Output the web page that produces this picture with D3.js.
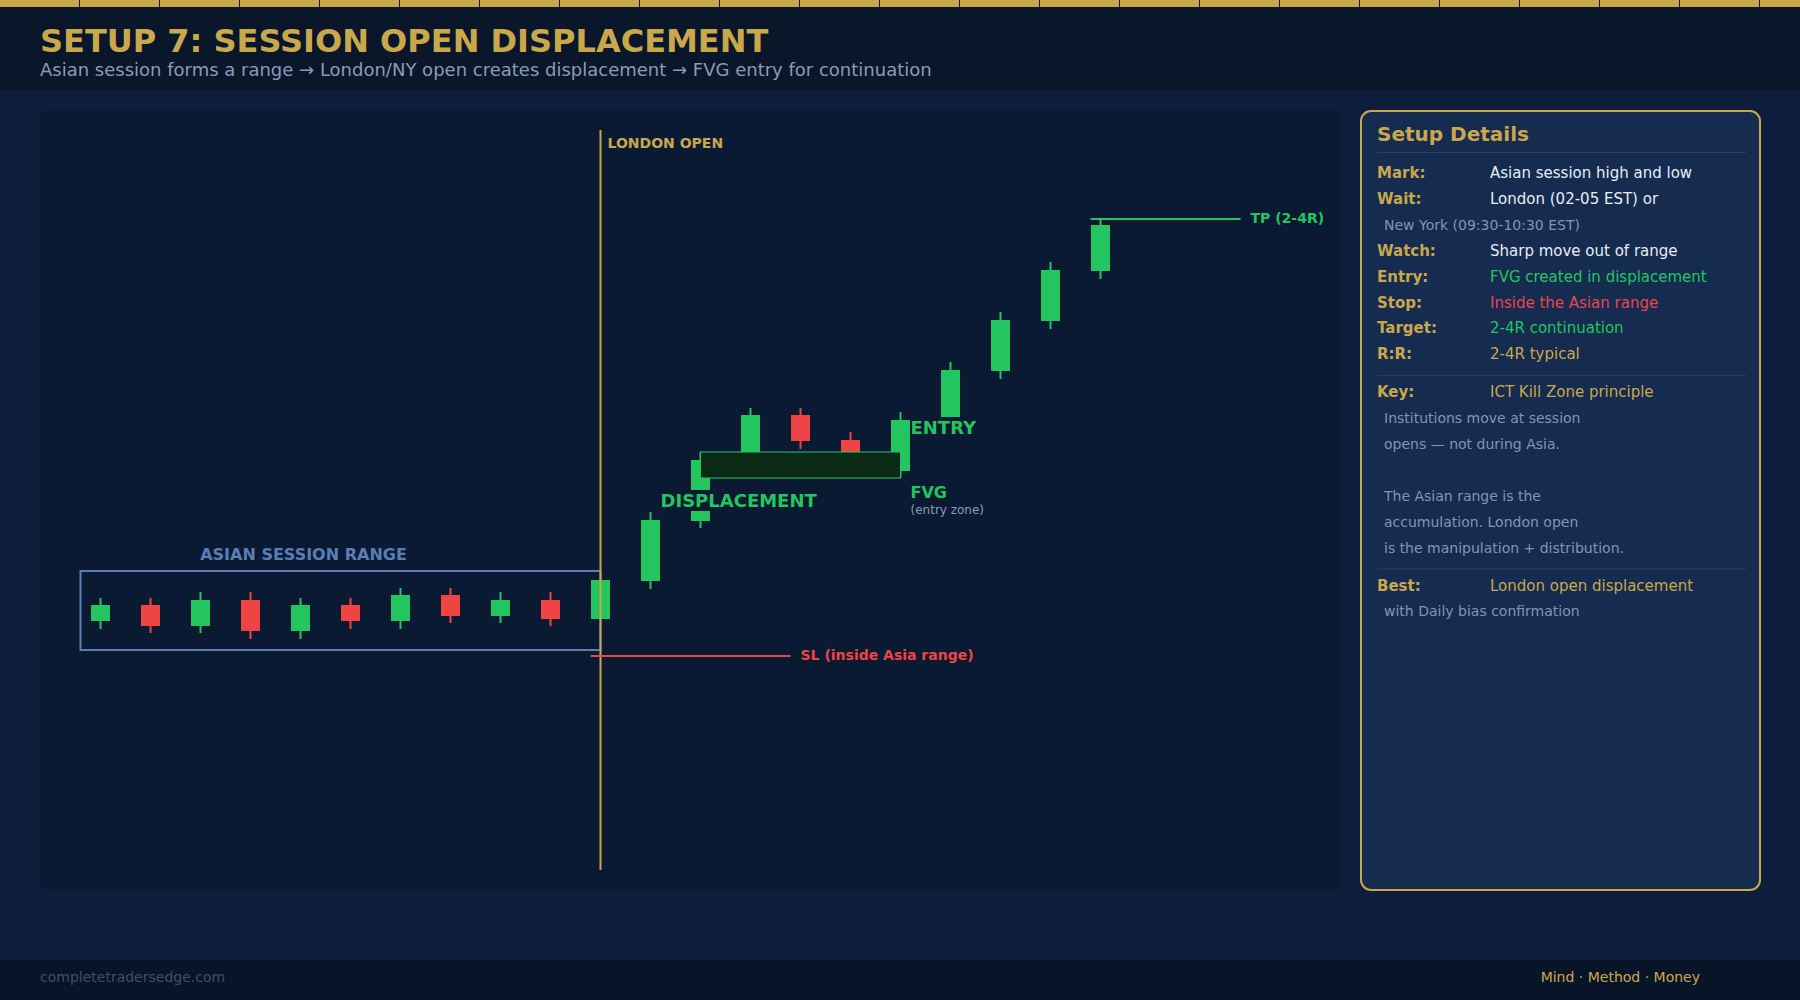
<!DOCTYPE html>
<html><head><meta charset="utf-8">
<script src="https://cdn.jsdelivr.net/npm/d3@7"></script>
<style>
html,body{margin:0;padding:0;background:#0c1e3b;}
svg{display:block;font-family:"DejaVu Sans",sans-serif;}
</style>
</head><body>
<svg id="chart" width="1800" height="1000"></svg>
<script>
// ---------- DATA ----------
const candleIndex = d3.range(21);
const opens  = [15.8,19,14.8,20,13.8,19,15.8,21,16.8,20,16.2,23.8,35.8,48,57,52,45.8,56.6,65.8,75.8,85.8];
const closes = [19,14.8,20,13.8,19,15.8,21,16.8,20,16.2,24,36,48,57,51.8,49,56,66,76,86,95];
const highs  = [20.4,20.4,21.6,21.6,20.4,20.4,22.4,22.4,21.6,21.6,24,37.6,49.6,58.4,58.4,53.6,57.6,67.6,77.6,87.6,96.2];
const lows   = [14.2,13.4,13.4,12.2,12.2,14.2,14.2,15.4,15.4,14.8,16.2,22.2,34.4,46.8,50.2,48,44.4,56.6,64.2,74.2,84.2];

const asianRange = [10, 25.8];        // price low / high of the marked range
const asianSpan = [-0.4, 10];         // candle index span
const londonOpenIndex = 10;
const slLevel = 8.8, slSpan = [9.8, 13.8];
const tpLevel = 96.2, tpSpan = [19.8, 22.8];
const fvgZone = [44.4, 49.6], fvgSpan = [12, 16];

const titleText = "SETUP 7: SESSION OPEN DISPLACEMENT";
const subtitleText = "Asian session forms a range \u2192 London/NY open creates displacement \u2192 FVG entry for continuation";

const detailRows = [
  {label:"Mark:",   value:"Asian session high and low", kind:"white"},
  {label:"Wait:",   value:"London (02-05 EST) or", kind:"white"},
  {label:null,      value:"New York (09:30-10:30 EST)", kind:"sub"},
  {label:"Watch:",  value:"Sharp move out of range", kind:"white"},
  {label:"Entry:",  value:"FVG created in displacement", kind:"green"},
  {label:"Stop:",   value:"Inside the Asian range", kind:"red"},
  {label:"Target:", value:"2-4R continuation", kind:"green"},
  {label:"R:R:",    value:"2-4R typical", kind:"gold"},
  {divider:true},
  {label:"Key:",    value:"ICT Kill Zone principle", kind:"gold"},
  {label:null,      value:"Institutions move at session", kind:"sub"},
  {label:null,      value:"opens \u2014 not during Asia.", kind:"sub"},
  {label:null,      value:"", kind:"sub"},
  {label:null,      value:"The Asian range is the", kind:"sub"},
  {label:null,      value:"accumulation. London open", kind:"sub"},
  {label:null,      value:"is the manipulation + distribution.", kind:"sub"},
  {divider:true},
  {label:"Best:",   value:"London open displacement", kind:"gold"},
  {label:null,      value:"with Daily bias confirmation", kind:"sub"}
];

// ---------- STYLE ----------
const C = {
  bg:"#0c1e3b", header:"#0a1629", footer:"#081427", panel:"#0a1a33", side:"#152b4f",
  gold:"#c9a84c", green:"#22c55e", red:"#ef4444", blue:"#5a7db3",
  white:"#e8edf5", sub:"#8595b0", muted:"#8a9bb8", divider:"#2a4069", dim:"#3d4f6e",
  fvgFill:"#0b2a16"
};
const kindColor = {white:C.white, green:C.green, red:"#e8464f", gold:C.gold, sub:C.sub};

const svg = d3.select("#chart");
const W = 1800, H = 1000;

// background layers
svg.append("rect").attr("width",W).attr("height",H).attr("fill",C.bg);
svg.append("rect").attr("width",W).attr("height",90).attr("fill",C.header);
svg.append("g").selectAll("rect").data(d3.range(0, W, 80)).join("rect")
  .attr("x",d=>d).attr("y",0).attr("width",79).attr("height",7).attr("fill",C.gold);
svg.append("rect").attr("y",960).attr("width",W).attr("height",40).attr("fill",C.footer);

// header texts
svg.append("text").attr("x",40).attr("y",52).text(titleText)
  .attr("fill",C.gold).attr("font-size",32).attr("font-weight","bold");
svg.append("text").attr("x",40).attr("y",76).text(subtitleText)
  .attr("fill",C.muted).attr("font-size",18);

// footer
svg.append("text").attr("x",40).attr("y",982).text("completetradersedge.com")
  .attr("fill",C.dim).attr("font-size",14);
svg.append("text").attr("x",1700).attr("y",982).attr("text-anchor","end").text("Mind \u00b7 Method \u00b7 Money")
  .attr("fill",C.gold).attr("font-size",14);

// chart panel
svg.append("rect").attr("x",40).attr("y",110).attr("width",1300).attr("height",780).attr("rx",8)
  .attr("fill",C.panel);

// scales
const x = d3.scaleLinear().domain([0,20]).range([100.5,1100.5]);
const y = d3.scaleLinear().domain([0,100]).range([700,200]);
const bw = (x(1)-x(0))*0.38;

const g = svg.append("g");

// Asian range box
g.append("rect")
  .attr("x",x(asianSpan[0])).attr("y",y(asianRange[1]))
  .attr("width",x(asianSpan[1])-x(asianSpan[0])).attr("height",y(asianRange[0])-y(asianRange[1]))
  .attr("fill","none").attr("stroke",C.blue).attr("stroke-width",2);

// candles
const candles = candleIndex.map(i=>({i,o:opens[i],c:closes[i],h:highs[i],l:lows[i]}));
const cg = g.append("g").selectAll("g").data(candles).join("g");
cg.append("line")
  .attr("x1",d=>x(d.i)).attr("x2",d=>x(d.i))
  .attr("y1",d=>y(d.h)).attr("y2",d=>y(d.l))
  .attr("stroke",d=>d.c>=d.o?C.green:C.red).attr("stroke-width",2);
cg.append("rect")
  .attr("x",d=>x(d.i)-bw/2).attr("width",bw)
  .attr("y",d=>y(Math.max(d.o,d.c))).attr("height",d=>Math.abs(y(d.o)-y(d.c)))
  .attr("fill",d=>d.c>=d.o?C.green:C.red);

// FVG zone
g.append("rect")
  .attr("x",x(fvgSpan[0])).attr("y",y(fvgZone[1]))
  .attr("width",x(fvgSpan[1])-x(fvgSpan[0])).attr("height",y(fvgZone[0])-y(fvgZone[1]))
  .attr("fill",C.fvgFill).attr("stroke",C.green).attr("stroke-width",1);

// London open line
g.append("line").attr("x1",x(londonOpenIndex)).attr("x2",x(londonOpenIndex))
  .attr("y1",130).attr("y2",870).attr("stroke",C.gold).attr("stroke-width",2);
g.append("text").attr("x",x(londonOpenIndex)+7).attr("y",148).text("LONDON OPEN")
  .attr("fill",C.gold).attr("font-size",14).attr("font-weight","bold");

// SL / TP
g.append("line").attr("x1",x(slSpan[0])).attr("x2",x(slSpan[1])).attr("y1",y(slLevel)).attr("y2",y(slLevel))
  .attr("stroke",C.red).attr("stroke-width",2);
g.append("text").attr("x",x(slSpan[1])+10).attr("y",y(slLevel)+4).text("SL (inside Asia range)")
  .attr("fill",C.red).attr("font-size",14).attr("font-weight","bold");
g.append("line").attr("x1",x(tpSpan[0])).attr("x2",x(tpSpan[1])).attr("y1",y(tpLevel)).attr("y2",y(tpLevel))
  .attr("stroke",C.green).attr("stroke-width",2);
g.append("text").attr("x",x(tpSpan[1])+10).attr("y",y(tpLevel)+4).text("TP (2-4R)")
  .attr("fill",C.green).attr("font-size",14).attr("font-weight","bold");

// labels with background
function label(tx, ty, txt, size, color, bold){
  const t = g.append("text").attr("x",tx).attr("y",ty).text(txt)
    .attr("fill",color).attr("font-size",size).attr("font-weight",bold?"bold":"normal");
  const b = t.node().getBBox();
  g.insert("rect", () => t.node()).attr("x",b.x).attr("y",b.y).attr("width",b.width).attr("height",b.height)
    .attr("fill",C.panel);
  return t;
}
label(303.5, y(asianRange[1])-11, "ASIAN SESSION RANGE", 16, C.blue, true).attr("text-anchor","middle");
label(x(11)+10, 507, "DISPLACEMENT", 18, C.green, true);
label(x(16)+10, 434, "ENTRY", 18, C.green, true);
label(x(16)+10, 498, "FVG", 16, C.green, true);
label(x(16)+10, 514, "(entry zone)", 12, C.muted, false);

// ---------- SIDE PANEL ----------
const sp = svg.append("g");
sp.append("rect").attr("x",1361).attr("y",111).attr("width",399).attr("height",779).attr("rx",10)
  .attr("fill",C.side).attr("stroke",C.gold).attr("stroke-width",2);
sp.append("text").attr("x",1377).attr("y",141).text("Setup Details")
  .attr("fill",C.gold).attr("font-size",20).attr("font-weight","bold");
sp.append("line").attr("x1",1377).attr("x2",1746).attr("y1",152.5).attr("y2",152.5)
  .attr("stroke",C.divider).attr("stroke-width",1);

let yy = 178;
detailRows.forEach((r, k) => {
  if (r.divider){
    const dy = yy - 26 + 16.5;
    sp.append("line").attr("x1",1377).attr("x2",1746).attr("y1",dy).attr("y2",dy)
      .attr("stroke",C.divider).attr("stroke-width",1);
    yy = dy + 21.5;
    return;
  }
  if (r.label){
    sp.append("text").attr("x",1377).attr("y",yy).text(r.label)
      .attr("fill",C.gold).attr("font-size",15).attr("font-weight","bold");
    sp.append("text").attr("x",1490).attr("y",yy).text(r.value)
      .attr("fill",kindColor[r.kind]).attr("font-size",15);
  } else {
    sp.append("text").attr("x",1384).attr("y",yy).text(r.value)
      .attr("fill",C.sub).attr("font-size",14);
  }
  yy += 25.9;
});
</script>
</body></html>
